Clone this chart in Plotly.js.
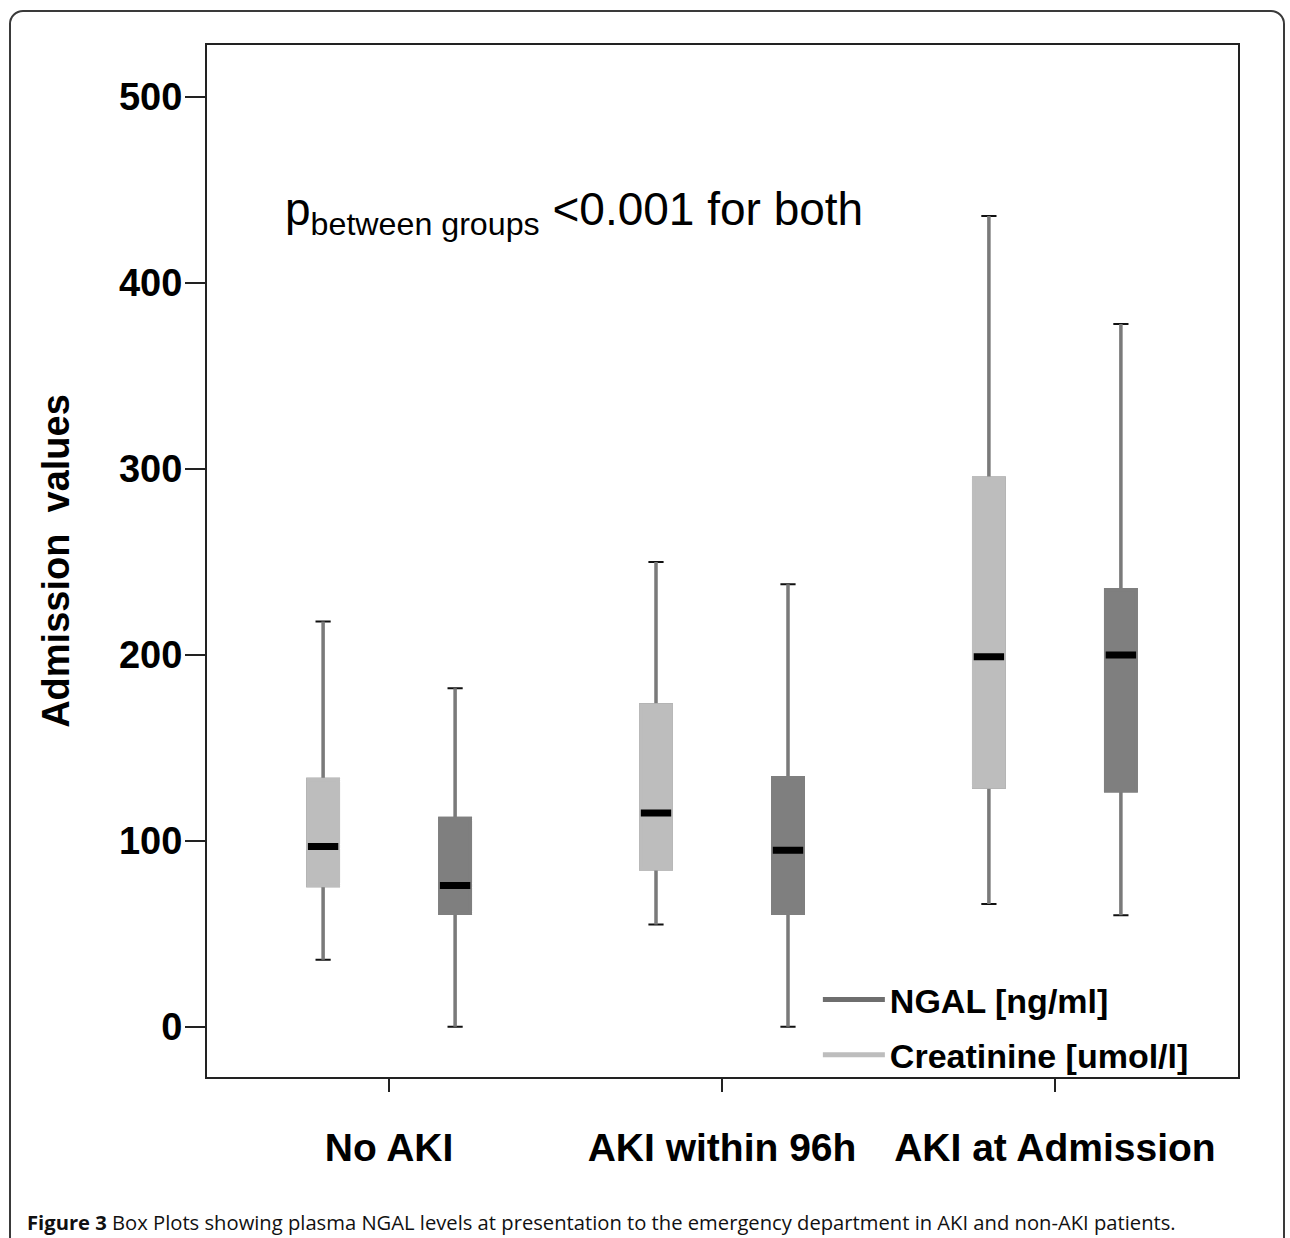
<!DOCTYPE html>
<html>
<head>
<meta charset="utf-8">
<script src="https://cdn.plot.ly/plotly-3.0.1.min.js"></script>
<style>
  html, body { margin: 0; padding: 0; background: #ffffff; overflow: hidden; }
  #wrap { position: relative; width: 1290px; height: 1238px; }
  #chart { position: absolute; left: 0; top: 0; width: 1290px; height: 1238px; }
  #frame { position: absolute; left: 9px; top: 10px; width: 1272px; height: 1300px;
           border: 2px solid #3a3a3a; border-radius: 14px; pointer-events: none; }
</style>
</head>
<body>
<div id="wrap">
  <div id="chart"></div>
  <div id="frame"></div>
</div>
<script>
// ---- data ----
const categories = ["No AKI", "AKI within 96h", "AKI at Admission"];

const creatinineName = "Creatinine [umol/l]";
const creatinineLow  = [36, 55, 66];
const creatinineQ1   = [76, 85, 129];
const creatinineMed  = [97, 115, 199];
const creatinineQ3   = [133, 173, 295];
const creatinineHigh = [218, 250, 436];

const ngalName = "NGAL [ng/ml]";
const ngalLow  = [0, 0, 60];
const ngalQ1   = [61, 61, 127];
const ngalMed  = [76, 95, 200];
const ngalQ3   = [112, 134, 235];
const ngalHigh = [182, 238, 378];

const yTicks = [0, 100, 200, 300, 400, 500];

const annotationText = "p<sub>between groups</sub> &lt;0.001 for both";
const captionText = "<b>Figure 3</b> Box Plots showing plasma NGAL levels at presentation to the emergency department in AKI and non-AKI patients.";
const yTitle = "Admission\u00a0\u00a0values";

// ---- styling ----
const whiskerColor = "#7a7a7a";

function layers(name, fill, low, q1, med, q3, high, group) {
  const base = { type: "box", x: categories, orientation: "v", boxpoints: false,
                 hoverinfo: "skip", showlegend: false,
                 alignmentgroup: "all", offsetgroup: group };
  return [
    // black caps (whiskers later covered)
    Object.assign({}, base, { name: name, q1: q1, median: med, q3: q3,
      lowerfence: low, upperfence: high, whiskerwidth: 0.5,
      fillcolor: "rgba(0,0,0,0)", line: { color: "#111111", width: 2 } }),
    // grey whiskers + box
    Object.assign({}, base, { name: name, q1: q1, median: med, q3: q3,
      lowerfence: low, upperfence: high, whiskerwidth: 0,
      fillcolor: fill, line: { color: whiskerColor, width: 3.5 } }),
    // box body without outline
    Object.assign({}, base, { name: name, q1: q1, median: med, q3: q3,
      lowerfence: q1, upperfence: q3, whiskerwidth: 0,
      fillcolor: fill, line: { color: fill, width: 3.5 } }),
    // thick black median
    Object.assign({}, base, { name: name, q1: med, median: med, q3: med,
      lowerfence: med, upperfence: med, whiskerwidth: 0,
      fillcolor: "rgba(0,0,0,0)", line: { color: "#000000", width: 7 } })
  ];
}

const creFill = "#bdbdbd";
const ngalFill = "#7f7f7f";

const traces = []
  .concat(layers(creatinineName, creFill, creatinineLow, creatinineQ1, creatinineMed, creatinineQ3, creatinineHigh, "cre"))
  .concat(layers(ngalName, ngalFill, ngalLow, ngalQ1, ngalMed, ngalQ3, ngalHigh, "ngal"));

// legend entries drawn as short lines
traces.push({ type: "scatter", mode: "lines", x: [null], y: [null], name: ngalName,
  legendgroup: "ngal", line: { color: "#6e6e6e", width: 5 }, hoverinfo: "skip" });
traces.push({ type: "scatter", mode: "lines", x: [null], y: [null], name: creatinineName,
  legendgroup: "cre", line: { color: "#bdbdbd", width: 5 }, hoverinfo: "skip" });

const tickFont = { family: "Liberation Sans, Arial, sans-serif", size: 39, color: "#000000", weight: "bold" };

const layout = {
  width: 1290, height: 1238,
  margin: { l: 207, r: 52, t: 45, b: 161 },
  paper_bgcolor: "#ffffff", plot_bgcolor: "#ffffff",
  boxmode: "group", boxgap: 0.207, boxgroupgap: 0.77,
  showlegend: true,
  legend: {
    x: 0.5925, y: 0.048, xanchor: "left", yanchor: "middle",
    bgcolor: "rgba(0,0,0,0)", borderwidth: 0, itemwidth: 62,
    font: { family: "Liberation Sans, Arial, sans-serif", size: 34, color: "#000000", weight: "bold" },
    tracegroupgap: 8, traceorder: "grouped"
  },
  xaxis: {
    type: "category", categoryorder: "array", categoryarray: categories,
    range: [-0.547, 2.55],
    showline: true, linecolor: "#222222", linewidth: 2, mirror: true,
    showgrid: false, zeroline: false,
    ticks: "outside", ticklen: 13, tickwidth: 2, tickcolor: "#222222",
    tickfont: tickFont, ticklabelstandoff: 22
  },
  yaxis: {
    range: [-27, 528],
    tickvals: yTicks, ticktext: yTicks.map(String),
    showline: true, linecolor: "#222222", linewidth: 2, mirror: true,
    showgrid: false, zeroline: false,
    ticks: "outside", ticklen: 20, tickwidth: 2, tickcolor: "#222222",
    tickfont: Object.assign({}, tickFont, { size: 38 }), ticklabelstandoff: -5,
    title: { text: yTitle, standoff: 38,
      font: { family: "Liberation Sans, Arial, sans-serif", size: 38, color: "#000000", weight: "bold" } }
  },
  annotations: [
    { xref: "paper", yref: "paper", x: 0.0737, y: 0.838, xanchor: "left", yanchor: "middle",
      text: annotationText, showarrow: false,
      font: { family: "Liberation Sans, Arial, sans-serif", size: 46, color: "#000000" } },
    { xref: "paper", yref: "paper", x: -0.1765, y: -0.1405, xanchor: "left", yanchor: "middle",
      text: captionText, showarrow: false,
      font: { family: "Open Sans, Noto Sans, sans-serif", size: 20.2, color: "#111111" } }
  ]
};

Plotly.newPlot("chart", traces, layout, { staticPlot: true, displayModeBar: false });
</script>
</body>
</html>
